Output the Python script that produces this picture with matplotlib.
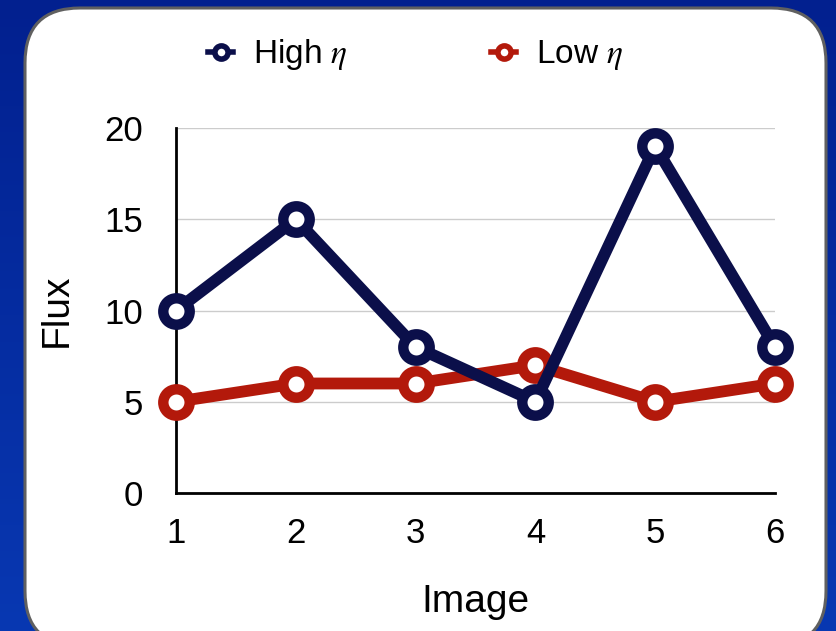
import numpy as np
import matplotlib.pyplot as plt
from matplotlib.patches import FancyBboxPatch
from matplotlib.lines import Line2D
from matplotlib.colors import LinearSegmentedColormap

plt.rcParams['font.family'] = ['Liberation Sans', 'DejaVu Sans']
plt.rcParams['mathtext.fontset'] = 'stix'

# flux per image for the two samples
images = [1, 2, 3, 4, 5, 6]
high_eta = [10, 15, 8, 5, 19, 8]
low_eta = [5, 6, 6, 7, 5, 6]
y_ticks = [0, 5, 10, 15, 20]

navy = '#0b0f4a'
red = '#b3190b'

W, H = 837, 631
fig = plt.figure(figsize=(W / 100, H / 100), dpi=100)

# blue gradient backdrop
bg = fig.add_axes([0, 0, 1, 1], zorder=-10)
grad = np.linspace(0, 1, 256).reshape(-1, 1)
cmap = LinearSegmentedColormap.from_list('bg', ['#02208f', '#0838b2'])
bg.imshow(grad, aspect='auto', cmap=cmap, extent=[0, 1, 0, 1], origin='upper')
bg.set_xlim(0, 1)
bg.set_ylim(0, 1)
bg.axis('off')

# white rounded card
r = 55
card = FancyBboxPatch((25 / W, (H - 646) / H), 801 / W, 638 / H,
                      boxstyle='round,pad=0,rounding_size=%f' % (r / W),
                      transform=bg.transAxes, facecolor='white',
                      edgecolor='#606060', linewidth=2.2,
                      mutation_aspect=W / H)
bg.add_patch(card)

ax = fig.add_axes([176 / W, (H - 493) / H, 599 / W, 365 / H])
ax.set_facecolor('none')

style = dict(linewidth=8.5, marker='o', markersize=19, markeredgewidth=7.5,
             markerfacecolor='white', solid_joinstyle='round', clip_on=False)
ax.plot(images, low_eta, color=red, markeredgecolor=red, zorder=3, **style)
ax.plot(images, high_eta, color=navy, markeredgecolor=navy, zorder=4, **style)

ax.set_xlim(1, 6)
ax.set_ylim(0, 20)
ax.set_xticks(images)
ax.set_yticks(y_ticks)
ax.tick_params(length=0, labelsize=25)
ax.tick_params(axis='x', pad=17)
ax.tick_params(axis='y', pad=24)
ax.grid(axis='y', color='#cccccc', linewidth=1)
ax.set_axisbelow(True)
for s in ['top', 'right']:
    ax.spines[s].set_visible(False)
for s in ['left', 'bottom']:
    ax.spines[s].set_linewidth(2)
    ax.spines[s].set_color('black')

ax.set_xlabel('Image', fontsize=28, labelpad=25)
ax.set_ylabel('Flux', fontsize=28, labelpad=21)

handles = [
    Line2D([], [], color=navy, linewidth=4, marker='o', markersize=9.5,
           markeredgewidth=4, markerfacecolor='white', markeredgecolor=navy),
    Line2D([], [], color=red, linewidth=4, marker='o', markersize=9.5,
           markeredgewidth=4, markerfacecolor='white', markeredgecolor=red),
]
fig.legend(handles, [r'High $\eta$', r'Low $\eta$'], loc='center',
           bbox_to_anchor=(416 / W, 1 - 55 / H), ncol=2, frameon=False,
           fontsize=24, columnspacing=4.3, handletextpad=0.6,
           handlelength=0.75)

fig.savefig('out.png', dpi=100)
